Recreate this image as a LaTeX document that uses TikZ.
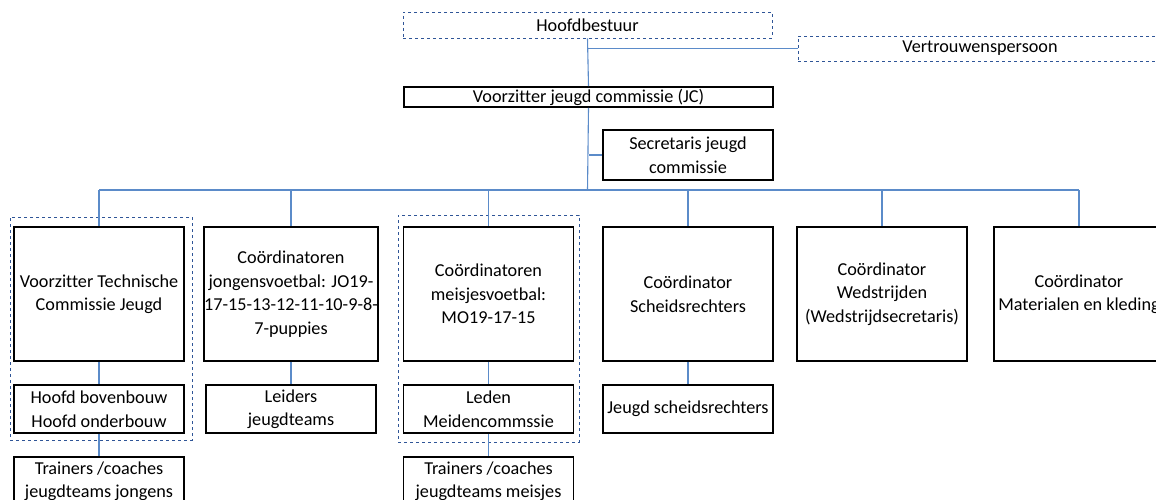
\documentclass[tikz,border=0pt]{standalone}
\usepackage{fontspec}
\setmainfont[Ligatures=NoCommon]{Carlito}
\usepackage{xcolor}
\definecolor{conncol}{HTML}{5B8BC9}
\definecolor{grpcol}{HTML}{2F5597}
\newcommand\orgfont{\fontsize{18.2}{23.5}\selectfont}
\tikzset{
  box/.style={draw=black, line width=1.9pt, align=center, inner sep=0pt, font=\orgfont},
  bigbox/.style={box, minimum width=170pt, minimum height=134pt},
  subbox/.style={box, minimum width=170pt, minimum height=48pt},
  dbox/.style={draw=grpcol, dashed, line width=0.8pt, align=center, inner sep=0pt, font=\orgfont},
  grp/.style={draw=grpcol, dashed, line width=0.8pt, inner sep=0pt},
  conn/.style={draw=conncol, line width=1.1pt},
}

\begin{document}
\begin{tikzpicture}[x=1pt, y=-1pt]
  \useasboundingbox (0,0) rectangle (1156,500);
  \clip (0,0) rectangle (1156,500);

  % groups
  \node[grp, minimum width=182pt, minimum height=223pt] (grpT) at (101,328.5) {};
  \node[grp, minimum width=181pt, minimum height=227pt] (grpM) at (488.5,328.5) {};

  % top
  \node[dbox, minimum width=369pt, minimum height=26pt] (hb) at (587.5,25) {Hoofdbestuur};
  \node[dbox, minimum width=364pt, minimum height=25pt] (vp) at (980,48.5) {Vertrouwenspersoon};
  \node[box, minimum width=369pt, minimum height=20pt] (vjc) at (588.5,97) {Voorzitter jeugd commissie (JC)};
  \node[box, minimum width=170pt, minimum height=50pt] (sec) at (688,155) {Secretaris jeugd\\commissie};

  % coordinators
  \node[bigbox] (tcj) at (99,294) {Voorzitter Technische\\Commissie Jeugd};
  \node[bigbox] (jv) at (291,294) {Coördinatoren\\jongensvoetbal: JO19-\\17-15-13-12-11-10-9-8-\\7-puppies};
  \node[bigbox] (mv) at (488.5,294) {Coördinatoren\\meisjesvoetbal:\\MO19-17-15};
  \node[bigbox] (sr) at (688,294) {Coördinator\\Scheidsrechters};
  \node[bigbox] (ws) at (882,294) {Coördinator\\Wedstrijden\\(Wedstrijdsecretaris)};
  \node[bigbox] (mk) at (1079,294) {Coördinator\\Materialen en kleding};

  % second row
  \node[subbox] (tcjsub) at (99,409) {Hoofd bovenbouw\\Hoofd onderbouw};
  \node[subbox] (jvsub) at (291,409) {Leiders\\jeugdteams};
  \node[subbox] (mvsub) at (488.5,409) {Leden\\Meidencommssie};
  \node[subbox] (srsub) at (688,409) {Jeugd scheidsrechters};

  % third row
  \node[subbox] (trj) at (99,481) {Trainers /coaches\\jeugdteams jongens};
  \node[subbox] (trm) at (488.5,481) {Trainers /coaches\\jeugdteams meisjes};

  % connectors
  \coordinate (bus) at (587.5,190);
  \draw[conn] (hb.south) -- (vjc.north);
  \draw[conn] (hb.south |- vp.west) -- (vp.west);
  \draw[conn] (vjc.south) -- (bus);
  \draw[conn] (vjc.south |- sec.west) -- (sec.west);
  \draw[conn] (tcj.north |- bus) -- (mk.north |- bus);
  \foreach \b in {tcj,jv,mv,sr,ws,mk}
    \draw[conn] (\b.north |- bus) -- (\b.north);
  \foreach \a/\b in {tcj/tcjsub, jv/jvsub, mv/mvsub, sr/srsub, tcjsub/trj, mvsub/trm}
    \draw[conn] (\a.south) -- (\b.north);
\end{tikzpicture}
\end{document}
